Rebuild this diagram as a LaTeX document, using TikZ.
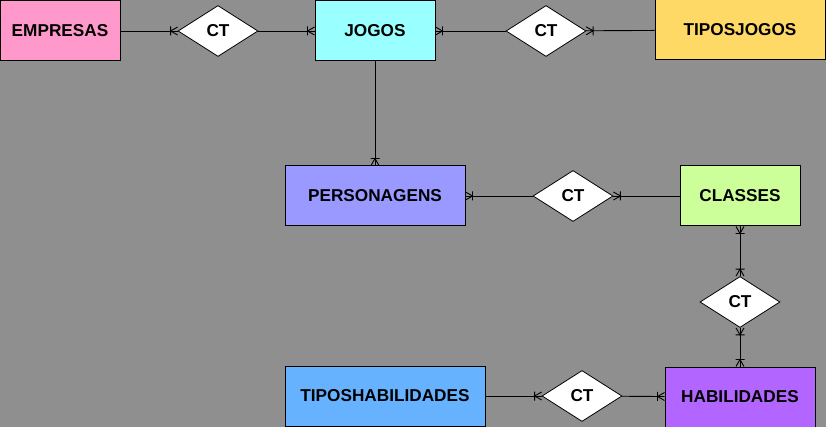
\documentclass[tikz,border=0pt]{standalone}
\usepackage{fontspec}
\setmainfont{Liberation Sans}
\usetikzlibrary{shapes.geometric}
\definecolor{bg}{HTML}{8F8F8F}
\definecolor{cEmp}{HTML}{FF99CC}
\definecolor{cJog}{HTML}{99FFFF}
\definecolor{cTip}{HTML}{FFD966}
\definecolor{cPer}{HTML}{9999FF}
\definecolor{cCla}{HTML}{CCFF99}
\definecolor{cTHa}{HTML}{66B2FF}
\definecolor{cHab}{HTML}{B266FF}
\pgfdeclarearrow{
  name=Crow,
  setup code={
    \pgfarrowssettipend{0pt}
    \pgfarrowssetlineend{0pt}
    \pgfarrowssetbackend{-7pt}
    \pgfarrowshullpoint{0pt}{4.5pt}
    \pgfarrowshullpoint{0pt}{-4.5pt}
    \pgfarrowshullpoint{-7pt}{4.5pt}
    \pgfarrowshullpoint{-7pt}{-4.5pt}
  },
  drawing code={
    \pgfsetdash{}{0pt}
    \pgfsetlinewidth{0.9pt}
    \pgfpathmoveto{\pgfqpoint{0pt}{4pt}}
    \pgfpathlineto{\pgfqpoint{-7pt}{0pt}}
    \pgfpathlineto{\pgfqpoint{0pt}{-4pt}}
    \pgfpathmoveto{\pgfqpoint{-7pt}{4.5pt}}
    \pgfpathlineto{\pgfqpoint{-7pt}{-4.5pt}}
    \pgfusepathqstroke
  }
}
\tikzset{
  entity/.style={draw=black, line width=1pt, rectangle, minimum height=60pt, inner sep=0pt,
    font=\bfseries\fontsize{17.2}{19}\selectfont},
  rel/.style={draw=black, line width=0.8pt, fill=white, diamond, minimum width=80pt, minimum height=51pt,
    inner sep=0pt, font=\bfseries\fontsize{17.2}{19}\selectfont},
  conn/.style={draw=black, line width=0.9pt},
}
\begin{document}
\begin{tikzpicture}[x=1pt,y=-1pt]
\fill[bg] (0,0) rectangle (826,427);
\useasboundingbox (0,0) rectangle (826,427);
% entities
\node[entity, fill=cEmp, minimum width=120pt] (emp) at (60,31) {EMPRESAS};
\node[entity, fill=cJog, minimum width=120pt] (jog) at (375,31) {JOGOS};
\node[entity, fill=cTip, minimum width=170pt] (tip) at (740,30) {TIPOSJOGOS};
\node[entity, fill=cPer, minimum width=180pt] (per) at (375,196) {PERSONAGENS};
\node[entity, fill=cCla, minimum width=120pt] (cla) at (740,196) {CLASSES};
\node[entity, fill=cTHa, minimum width=200pt] (tha) at (385,396) {TIPOSHABILIDADES};
\node[entity, fill=cHab, minimum width=150pt] (hab) at (740,397) {HABILIDADES};
% relationships
\node[rel] (r1) at (218,31) {CT};
\node[rel] (r2) at (546,31) {CT};
\node[rel] (r3) at (573,196) {CT};
\node[rel] (r4) at (740,302) {CT};
\node[rel] (r5) at (582,396) {CT};
% connectors
\draw[conn,-Crow] (emp) -- (r1);
\draw[conn,-Crow] (r1) -- (jog);
\draw[conn,-Crow] (r2) -- (jog);
\draw[conn,-Crow] (tip) -- (r2);
\draw[conn,-Crow] (jog) -- (per);
\draw[conn,-Crow] (r3) -- (per);
\draw[conn,-Crow] (cla) -- (r3);
\draw[conn,Crow-Crow] (cla) -- (r4);
\draw[conn,Crow-Crow] (r4) -- (hab);
\draw[conn,-Crow] (tha) -- (r5);
\draw[conn,-Crow] (r5) -- (hab);
\end{tikzpicture}
\end{document}
